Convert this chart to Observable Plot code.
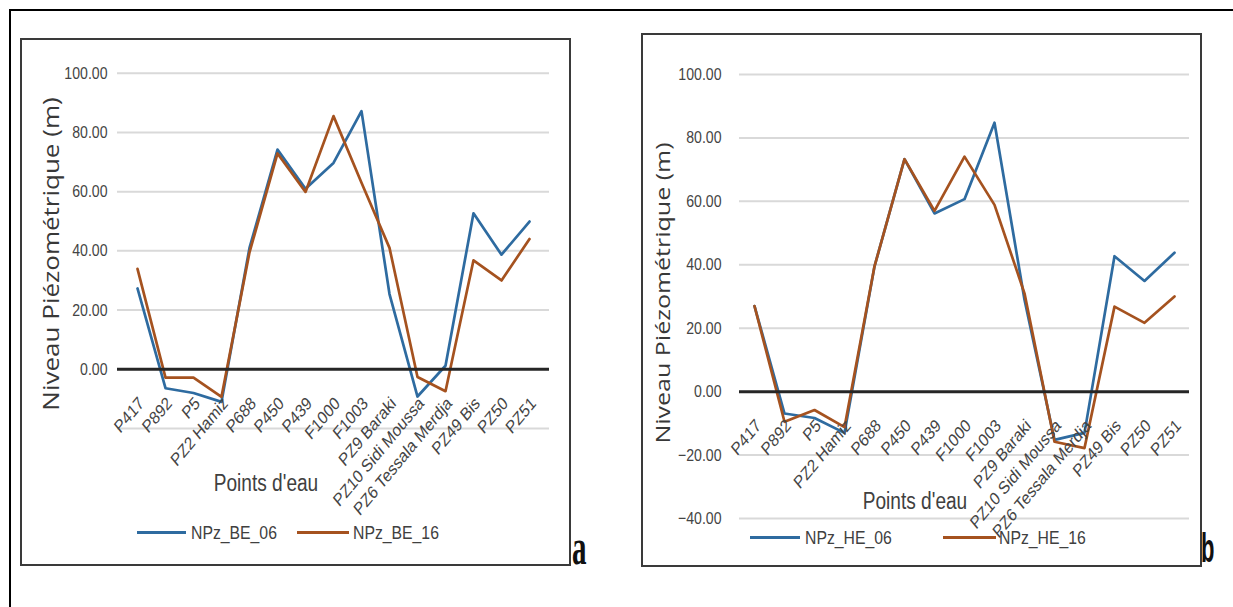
<!DOCTYPE html>
<html><head><meta charset="utf-8">
<script src="https://cdn.jsdelivr.net/npm/d3@7"></script>
<script src="https://cdn.jsdelivr.net/npm/@observablehq/plot@0.6"></script>
<style>
body{margin:0;background:#fff;}
#root{position:relative;width:1233px;height:607px;overflow:hidden;background:#fff;font-family:"Liberation Sans",Arial,sans-serif;}
.outer{position:absolute;left:9px;top:9px;width:1260px;height:640px;border-top:2px solid #000;border-left:2px solid #000;}
.panel{position:absolute;box-sizing:border-box;border:2px solid #3a3a3a;}
.abs{position:absolute;white-space:nowrap;line-height:1;}
.chart{position:absolute;}
</style></head>
<body><div id="root"><div class="outer"></div></div>
<script>
const categories = ["P417","P892","P5","PZ2 Hamiz","P688","P450","P439","F1000","F1003","PZ9 Baraki","PZ10 Sidi Moussa","PZ6 Tessala Merdja","PZ49 Bis","PZ50","PZ51"];
const npzBE06 = [27.3,-6.4,-8.0,-11.0,41.0,74.2,61.0,69.7,87.2,25.4,-9.2,1.2,52.7,38.7,49.9];
const npzBE16 = [33.9,-2.8,-2.8,-9.3,39.5,72.9,59.9,85.5,63.0,41.0,-2.6,-7.4,36.8,30.0,44.0];
const npzHE06 = [27.0,-6.9,-8.3,-13.0,39.5,73.3,56.2,60.7,84.8,29.0,-15.2,-13.0,42.7,34.9,43.8];
const npzHE16 = [27.0,-9.5,-5.8,-11.2,39.5,73.3,57.0,74.1,58.9,31.0,-15.8,-17.8,26.8,21.7,30.0];
const leftGrid = [-20,0,20,40,60,80,100];
const leftTickLabels = [0,20,40,60,80,100];
const rightGrid = [-40,-20,0,20,40,60,80,100];
const rightTickLabels = [-40,-20,0,20,40,60,80,100];
const seriesNamesA = ["NPz_BE_06","NPz_BE_16"];
const seriesNamesB = ["NPz_HE_06","NPz_HE_16"];
const xTitle = "Points d'eau";
const yTitle = "Niveau Piézométrique (m)";
const colors = ["#2e6ba0","#a5521f"];
const SQ = 0.83; // horizontal squeeze of the original picture

const root = document.getElementById("root");
function addDiv(cls, css, text){
  const d = document.createElement("div");
  d.className = cls; Object.assign(d.style, css);
  if (text != null) d.textContent = text;
  root.appendChild(d); return d;
}

function makeChart(cfg){
  const rows = [];
  cfg.series.forEach((vals, si) => vals.forEach((v, i) => rows.push({cat: categories[i], value: v, s: cfg.names[si]})));
  const fmt = d3.format(".2f");
  const p = Plot.plot({
    width: cfg.w, height: cfg.h,
    marginLeft: cfg.ml, marginRight: cfg.mr, marginTop: cfg.mt, marginBottom: cfg.mb,
    style: {fontFamily: '"Liberation Sans",Arial,sans-serif', background: "transparent", overflow: "visible"},
    x: {type: "point", domain: categories, padding: 0.5, axis: null},
    y: {domain: cfg.domain, axis: null},
    color: {domain: cfg.names, range: colors},
    marks: [
      Plot.ruleY(cfg.grid, {stroke: "#d9d9d9", strokeWidth: 2}),
      Plot.axisY(cfg.tickLabels, {tickSize: 0, tickPadding: cfg.pad, tickFormat: fmt, fontSize: 17, fill: "#444", label: null}),
      Plot.line(rows, {x: "cat", y: "value", z: "s", stroke: "s", strokeWidth: 2.7}),
      Plot.ruleY([0], {stroke: "#262626", strokeWidth: 3}),
      Plot.text(categories, {x: d => d, y: d => 0, text: d => d, rotate: -45, textAnchor: "end", lineAnchor: "middle", dx: 4, dy: 31, fontSize: 18, fill: "#444"})
    ]
  });
  // reproduce the horizontal squeeze of the source picture on all chart texts
  p.querySelectorAll("text").forEach(t => {
    const tr = t.getAttribute("transform");
    if (!tr) return;
    if (tr.includes("rotate(")) t.setAttribute("transform", tr.replace("rotate(", `scale(${SQ},1) rotate(`));
    else t.setAttribute("transform", tr + ` scale(${SQ},1)`);
  });
  const wrap = addDiv("chart", {left: cfg.left + "px", top: cfg.top + "px"});
  wrap.appendChild(p);
  addDiv("panel", {left: cfg.left + "px", top: cfg.top + "px", width: cfg.w + "px", height: cfg.h + "px"});
}

makeChart({left: 20, top: 38, w: 551, h: 528, ml: 97, mr: 22, mt: 34.7, mb: 138, domain: [-20, 100], grid: leftGrid, tickLabels: leftTickLabels, pad: 10, series: [npzBE06, npzBE16], names: seriesNamesA});
makeChart({left: 641, top: 33, w: 561, h: 534, ml: 98, mr: 13, mt: 41, mb: 49, domain: [-40, 100], grid: rightGrid, tickLabels: rightTickLabels, pad: 18, series: [npzHE06, npzHE16], names: seriesNamesB});

// axis titles
addDiv("abs", {left: "51px", top: "254px", fontFamily: '"Open Sans",sans-serif', fontSize: "26px", color: "#383838", transform: `translate(-50%,-50%) rotate(-90deg) scaleY(${SQ})`}, yTitle);
addDiv("abs", {left: "662px", top: "293px", fontFamily: '"Open Sans",sans-serif', fontSize: "25px", color: "#383838", transform: `translate(-50%,-50%) rotate(-90deg) scaleY(${SQ})`}, yTitle);
addDiv("abs", {left: "266px", top: "483px", fontSize: "23px", color: "#404040", transform: `translate(-50%,-50%) scaleX(${SQ})`}, xTitle);
addDiv("abs", {left: "915px", top: "501px", fontSize: "23px", color: "#404040", transform: `translate(-50%,-50%) scaleX(${SQ})`}, xTitle);

// legends
function legend(items){
  items.forEach(it => {
    addDiv("abs", {left: it.x1 + "px", top: (it.y - 1.5) + "px", width: (it.x2 - it.x1) + "px", height: "3px", background: it.color});
    addDiv("abs", {left: it.tx + "px", top: it.y + "px", fontSize: "19px", color: "#404040", transformOrigin: "left center", transform: `translateY(-50%) scaleX(${SQ})`}, it.name);
  });
}
legend([
  {x1: 137, x2: 186, y: 532, tx: 191, color: colors[0], name: seriesNamesA[0]},
  {x1: 297, x2: 349, y: 532, tx: 353, color: colors[1], name: seriesNamesA[1]},
  {x1: 750, x2: 800, y: 537, tx: 805, color: colors[0], name: seriesNamesB[0]},
  {x1: 943, x2: 996, y: 537, tx: 999, color: colors[1], name: seriesNamesB[1]}
]);

// panel letters
addDiv("abs", {left: "572px", top: "522px", fontFamily: '"Liberation Serif",serif', fontWeight: "bold", fontSize: "50px", color: "#111", transform: "scaleX(0.58)", transformOrigin: "left top"}, "a");
addDiv("abs", {left: "1201px", top: "528px", fontFamily: '"Liberation Sans",sans-serif', fontWeight: "bold", fontSize: "40px", color: "#111", transform: "scaleX(0.55)", transformOrigin: "left top"}, "b");
</script></body></html>
